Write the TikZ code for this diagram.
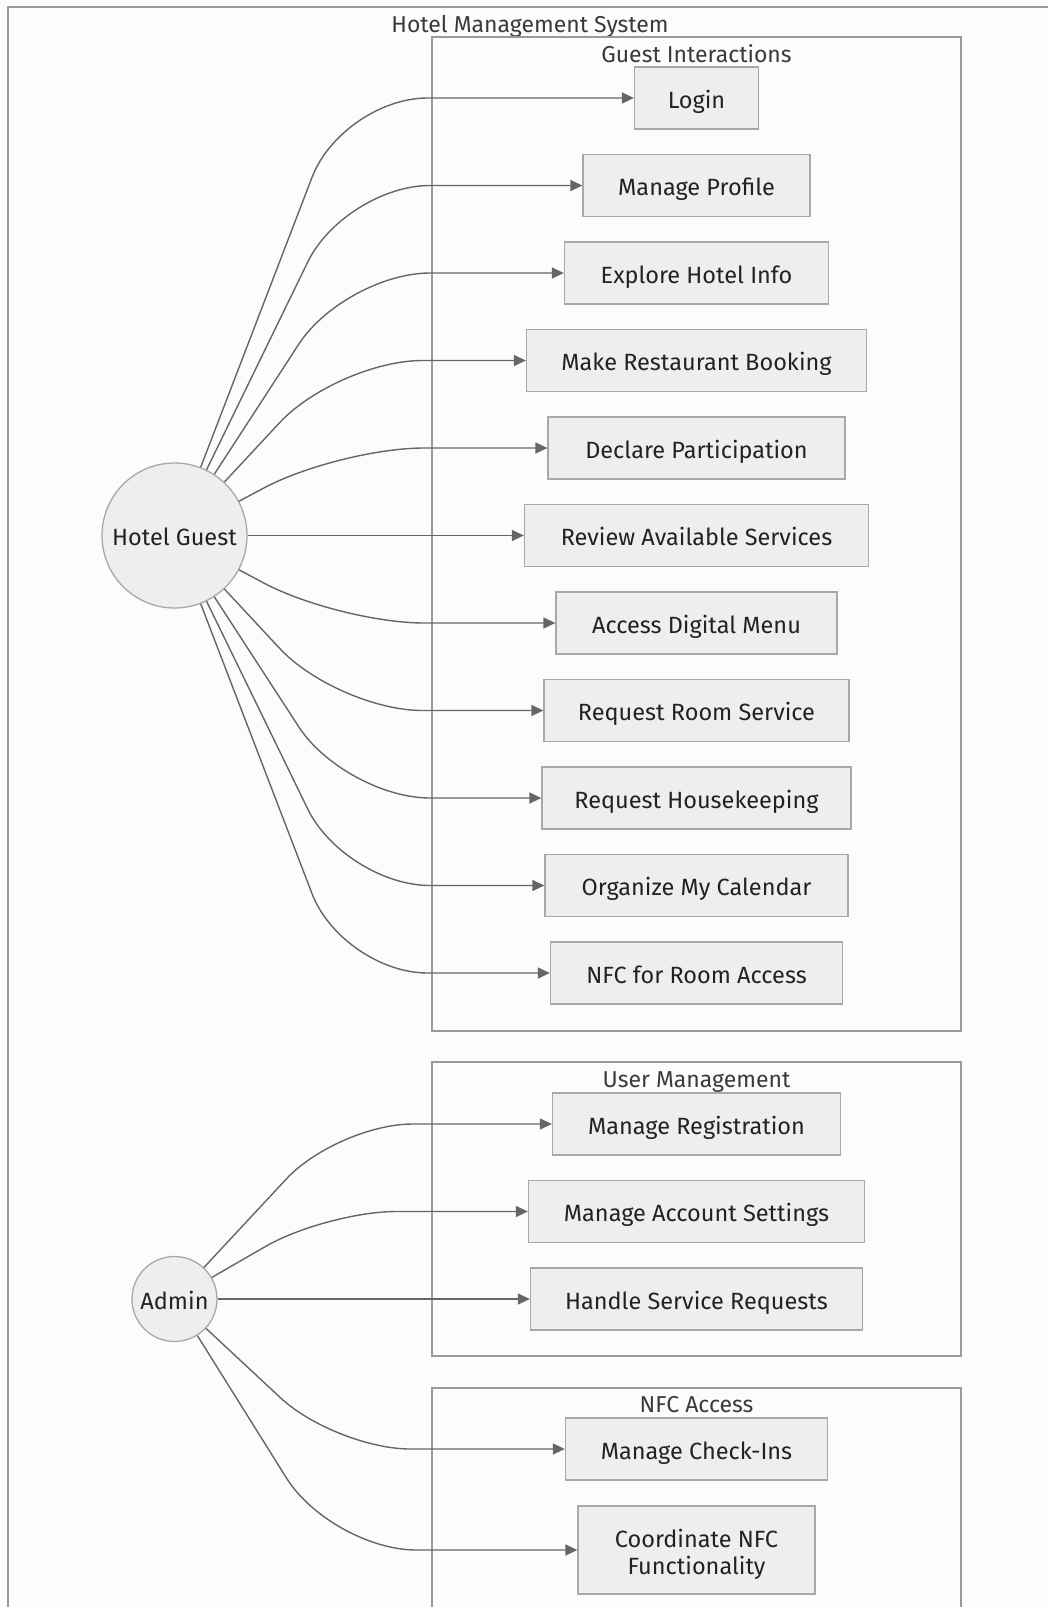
\documentclass[tikz,border=0pt]{standalone}
\usepackage{fontspec}
\setmainfont{Fira Sans}
\usetikzlibrary{arrows.meta}

\definecolor{paper}{HTML}{FCFCFC}
\definecolor{boxfill}{HTML}{EEEEEE}
\definecolor{boxline}{HTML}{A8A8A8}
\definecolor{groupline}{HTML}{9A9A9A}
\definecolor{linkcol}{HTML}{666666}
\definecolor{labelcol}{HTML}{222222}
\definecolor{titlecol}{HTML}{3A3A3A}

\begin{document}
\begin{tikzpicture}[x=1pt,y=-1pt,
  usecase/.style={draw=boxline, fill=boxfill, line width=1.3pt, minimum height=62pt,
    inner sep=0pt, text height=21pt, text depth=1pt, text=labelcol, align=center,
    font=\fontsize{23.5}{27}\selectfont},
  actor/.style={circle, draw=boxline, fill=boxfill, line width=1.3pt, inner sep=0pt,
    text height=21pt, text depth=1pt, text=labelcol, font=\fontsize{23.5}{27}\selectfont},
  group/.style={draw=groupline, line width=1.3pt, fill=paper},
  grouptitle/.style={inner sep=0pt, text height=21pt, text depth=1pt, text=titlecol,
    font=\fontsize{23}{27}\selectfont},
  link/.style={draw=linkcol, line width=1.4pt, rounded corners=85pt,
    -{Triangle[length=12pt,width=11pt]}},
]
\path[use as bounding box] (0,0) rectangle (1048,1607);
\clip (0,0) rectangle (1048,1607);
\fill[paper] (0,0) rectangle (1048,1607);

% system frame and the three groups
\draw[group] (8,7) rectangle (1052,1640);
\node[grouptitle] (systitle) at (530,22) {Hotel Management System};

\draw[group] (432,37) rectangle (961,1031);
\node[grouptitle] (guesttitle) at (696.5,52) {Guest Interactions};

\draw[group] (432,1062) rectangle (961,1356);
\node[grouptitle] (usertitle) at (696.5,1077) {User Management};

\draw[group] (432,1388) rectangle (961,1640);
\node[grouptitle] (nfctitle) at (696.5,1402) {NFC Access};

% actors
\node[actor, minimum size=145pt] (guest) at (174.5,535.5) {Hotel Guest};
\node[actor, minimum size=85pt] (admin) at (174.5,1299) {Admin};

% guest use cases
\node[usecase, minimum width=124pt] (login)        at (696.5,98)    {Login};
\node[usecase, minimum width=227pt] (profile)      at (696.5,185.5) {Manage Profile};
\node[usecase, minimum width=264pt] (explore)      at (696.5,273)   {Explore Hotel Info};
\node[usecase, minimum width=340pt] (restaurant)   at (696.5,360.5) {Make Restaurant Booking};
\node[usecase, minimum width=297pt] (declare)      at (696.5,448)   {Declare Participation};
\node[usecase, minimum width=344pt] (review)       at (696.5,535.5) {Review Available Services};
\node[usecase, minimum width=281pt] (menu)         at (696.5,623)   {Access Digital Menu};
\node[usecase, minimum width=305pt] (roomservice)  at (696.5,710.5) {Request Room Service};
\node[usecase, minimum width=309pt] (housekeeping) at (696.5,798)   {Request Housekeeping};
\node[usecase, minimum width=303pt] (calendar)     at (696.5,885.5) {Organize My Calendar};
\node[usecase, minimum width=292pt] (nfcroom)      at (696.5,973)   {NFC for Room Access};

% admin use cases
\node[usecase, minimum width=288pt] (registration) at (696.5,1124)   {Manage Registration};
\node[usecase, minimum width=336pt] (account)      at (696.5,1211.5) {Manage Account Settings};
\node[usecase, minimum width=332pt] (requests)     at (696.5,1299)   {Handle Service Requests};
\node[usecase, minimum width=262pt] (checkins)     at (696.5,1449)   {Manage Check-Ins};
\node[usecase, minimum width=237pt, minimum height=88pt, text height=49pt] (coordinate)
  at (696.5,1550) {Coordinate NFC\\Functionality};

% guest links
\draw[link] (guest.69)  -- (342.5,98)    -- (login);
\draw[link] (guest.64)  -- (345,185.5)   -- (profile);
\draw[link] (guest.57)  -- (345,273)     -- (explore);
\draw[link] (guest.47)  -- (337.5,360.5) -- (restaurant);
\draw[link] (guest.28)  -- (339,448)     -- (declare);
\draw[link] (guest.east) -- (review);
\draw[link] (guest.-28) -- (339,623)     -- (menu);
\draw[link] (guest.-47) -- (337.5,710.5) -- (roomservice);
\draw[link] (guest.-57) -- (345,798)     -- (housekeeping);
\draw[link] (guest.-64) -- (345,885.5)   -- (calendar);
\draw[link] (guest.-69) -- (342.5,973)   -- (nfcroom);

% admin links
\draw[link, rounded corners=75pt] (admin.47)  -- (337.5,1124)  -- (registration);
\draw[link, rounded corners=70pt] (admin.30)  -- (326,1211.5)  -- (account);
\draw[link] (admin.east) -- (requests);
\draw[link, rounded corners=75pt] (admin.-43) -- (335.5,1449)  -- (checkins);
\draw[link, rounded corners=85pt] (admin.-58) -- (331.5,1550)  -- (coordinate);
\end{tikzpicture}
\end{document}
